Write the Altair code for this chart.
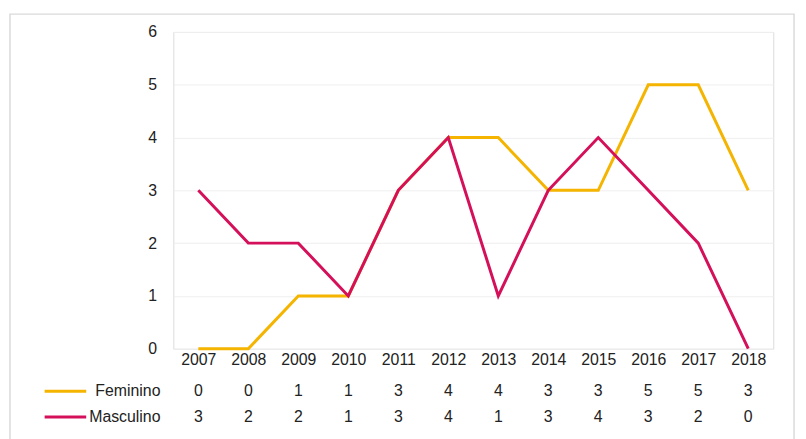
import altair as alt
import pandas as pd

years = ["2007", "2008", "2009", "2010", "2011", "2012", "2013", "2014", "2015", "2016", "2017", "2018"]
feminino = [0, 0, 1, 1, 3, 4, 4, 3, 3, 5, 5, 3]
masculino = [3, 2, 2, 1, 3, 4, 1, 3, 4, 3, 2, 0]
series = ["Feminino", "Masculino"]
colors = ["#F4B400", "#D5105A"]

FONT = "Liberation Sans, Arial"
FS = 16

df = pd.DataFrame(
    [{"year": y, "series": "Feminino", "value": v} for y, v in zip(years, feminino)]
    + [{"year": y, "series": "Masculino", "value": v} for y, v in zip(years, masculino)]
)

W, H = 606, 320

xscale = alt.Scale(type="point", domain=years, padding=0.5)
xaxis = alt.Axis(
    title=None, domain=False, ticks=False, labelAngle=0, labelPadding=3,
    labelFontSize=FS, labelFont=FONT, labelColor="#222222", grid=False,
)

xenc = alt.X("year:N", scale=xscale, axis=xaxis)
yenc = alt.Y(
    "value:Q",
    scale=alt.Scale(domain=[0, 6], nice=False),
    axis=alt.Axis(
        title=None, domain=False, ticks=False, values=[0, 1, 2, 3, 4, 5, 6],
        labelPadding=17, labelFontSize=FS, labelFont=FONT, labelColor="#222222",
        gridColor="#EFEFEF", gridWidth=1,
    ),
)

lines = alt.Chart(df).mark_line(strokeWidth=3).encode(
    x=xenc,
    y=yenc,
    color=alt.Color("series:N", scale=alt.Scale(domain=series, range=colors), legend=None),
    order=alt.Order("series:N"),
)

border = alt.Chart(alt.Data(values=[{}])).mark_rect(
    fill=None, stroke="#DADADA", strokeWidth=1.5
).encode(
    x=alt.value(-165), x2=alt.value(627), y=alt.value(-18), y2=alt.value(420)
)

fem_df = df[df.series == "Feminino"]
mas_df = df[df.series == "Masculino"]

row_y = {"Feminino": 363, "Masculino": 389}

def value_row(d, name):
    return alt.Chart(d).mark_text(
        fontSize=FS, font=FONT, color="#222222", baseline="middle"
    ).encode(
        x=alt.X("year:N", scale=xscale, axis=xaxis),
        y=alt.value(row_y[name]),
        text="value:Q",
    )

def row_label(name, color):
    d = pd.DataFrame({"series": [name]})
    lab = alt.Chart(d).mark_text(
        fontSize=FS, font=FONT, color="#222222", baseline="middle", align="right"
    ).encode(x=alt.value(-13), y=alt.value(row_y[name]), text="series:N")
    seg = alt.Chart(d).mark_rule(strokeWidth=3, color=color).encode(
        x=alt.value(-130), x2=alt.value(-88), y=alt.value(row_y[name])
    )
    return seg + lab

chart = alt.layer(
    border,
    lines,
    value_row(fem_df, "Feminino"),
    value_row(mas_df, "Masculino"),
    row_label("Feminino", colors[0]),
    row_label("Masculino", colors[1]),
).properties(
    width=W,
    height=H,
    autosize=alt.AutoSizeParams(type="none"),
    padding={"left": 167, "top": 22, "right": 25, "bottom": 90},
).configure_view(stroke=None).configure(background="white")

chart.save("out.html", embed_options={"renderer": "svg", "actions": False})
